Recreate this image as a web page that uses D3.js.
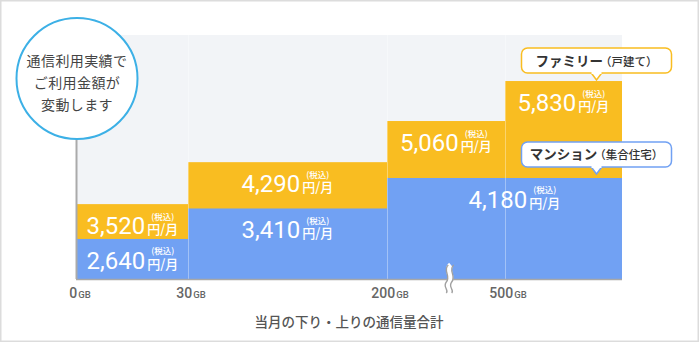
<!DOCTYPE html>
<html lang="ja">
<head>
<meta charset="UTF-8">
<title>通信利用実績でご利用金額が変動します</title>
<style>
    html, body { margin: 0; padding: 0; background: #fff; }
    svg { display: block; }
    .jp { font-family: "Noto Sans CJK JP", "Noto Sans", sans-serif; }
    .num { font-family: Roboto, "Noto Sans", sans-serif; }
</style>
</head>
<body>
<script src="https://cdnjs.cloudflare.com/ajax/libs/d3/7.8.5/d3.min.js"></script>
<script>
    // usage tiers (GB); the last bound is just the open end of the chart
    const tierBounds = [0, 30, 200, 500, 800];
    const tickValues = [0, 30, 200, 500];

    // monthly price per tier (yen, tax incl.)
    const familyPrices = [3520, 4290, 5060, 5830];
    const mansionPrices = [2640, 3410, 4180];
    // mansion price stays the same from 200GB upwards
    const mansionTiers = [[0, 30], [30, 200], [200, 800]];

    const width = 700, height = 344;
    const plotTop = 35, baseY = 279;

    const orange = "#f9bd21", blue = "#71a1f3";

    const svg = d3.select("body").append("svg")
        .attr("width", width)
        .attr("height", height);

    // frame
    svg.append("rect")
        .attr("x", 0.75).attr("y", 0.75)
        .attr("width", 697.5).attr("height", 340.5)
        .attr("fill", "#fff")
        .attr("stroke", "#dcdcdc")
        .attr("stroke-width", 1.5);

    // x is not to scale: each tier gets its own stretch of the axis
    const x = d3.scaleLinear()
        .domain(tierBounds)
        .range([77, 188, 387, 505, 622]);

    // y is stepped as well, price steps are exaggerated near the top
    const y = d3.scaleLinear()
        .domain([2000, 4200, 4300, 6000])
        .range([264.3, 177.2, 160.5, 72.2]);

    // plot background
    svg.append("rect")
        .attr("x", x(0)).attr("y", plotTop)
        .attr("width", x(800) - x(0)).attr("height", baseY - plotTop)
        .attr("fill", "#f2f4f7");

    const family = familyPrices.map((v, i) => ({ v, x0: tierBounds[i], x1: tierBounds[i + 1] }));
    const mansion = mansionPrices.map((v, i) => ({ v, x0: mansionTiers[i][0], x1: mansionTiers[i][1] }));

    svg.append("g").selectAll("rect")
        .data(family)
        .join("rect")
        .attr("x", d => x(d.x0))
        .attr("width", d => x(d.x1) - x(d.x0))
        .attr("y", d => y(d.v))
        .attr("height", d => baseY - y(d.v))
        .attr("fill", orange);

    svg.append("g").selectAll("rect")
        .data(mansion)
        .join("rect")
        .attr("x", d => x(d.x0))
        .attr("width", d => x(d.x1) - x(d.x0))
        .attr("y", d => y(d.v))
        .attr("height", d => baseY - y(d.v))
        .attr("fill", blue);

    // faint tier dividers
    svg.append("g").selectAll("line")
        .data(tickValues.slice(1))
        .join("line")
        .attr("x1", d => x(d) + 0.5).attr("x2", d => x(d) + 0.5)
        .attr("y1", plotTop).attr("y2", baseY)
        .attr("stroke", "#fff")
        .attr("stroke-opacity", 0.35)
        .attr("stroke-width", 1);

    // baseline and left axis line
    svg.append("line")
        .attr("x1", x(0) - 1).attr("x2", x(800))
        .attr("y1", baseY + 0.5).attr("y2", baseY + 0.5)
        .attr("stroke", "#a8a8a8").attr("stroke-width", 1.5);

    const circle = { cx: 77, cy: 78.5, r: 60.5 };
    svg.append("line")
        .attr("x1", x(0) - 0.5).attr("x2", x(0) - 0.5)
        .attr("y1", circle.cy + circle.r).attr("y2", baseY)
        .attr("stroke", "#aaa").attr("stroke-width", 2);

    // break mark between 200GB and 500GB
    const brk = svg.append("g").attr("transform", `translate(449,${baseY})`);
    const wave = "M2,-14 C-4,-9 5,-3 0,3 C-4,8 3,11 0,14";
    brk.append("path").attr("d", wave)
        .attr("fill", "none").attr("stroke", "#fff").attr("stroke-width", 6);
    [-2.7, 2.7].forEach(dx => {
        brk.append("path").attr("d", wave)
            .attr("transform", `translate(${dx},0)`)
            .attr("fill", "none").attr("stroke", "#a0a0a0").attr("stroke-width", 1.4);
    });

    // price labels: big number + 円/月 with (税込) above
    function priceLabel(cx, top, value) {
        const g = svg.append("g");
        const base = top + 30;
        const num = g.append("text")
            .attr("class", "num")
            .attr("x", 0).attr("y", base)
            .attr("fill", "#fff")
            .attr("font-size", 24)
            .attr("font-weight", 400)
            .text(d3.format(",")(value));
        const nw = num.node().getComputedTextLength();
        const unit = g.append("text")
            .attr("class", "jp")
            .attr("x", nw + 2).attr("y", base)
            .attr("fill", "#fff")
            .attr("font-size", 13)
            .attr("font-weight", 500)
            .text("円/月");
        const uw = unit.node().getComputedTextLength();
        g.append("text")
            .attr("class", "jp")
            .attr("x", nw + 2 + uw / 2).attr("y", base - 14.5)
            .attr("text-anchor", "middle")
            .attr("fill", "#fff")
            .attr("font-size", 8.5)
            .attr("font-weight", 500)
            .text("(税込)");
        g.attr("transform", `translate(${cx - (nw + 2 + uw) / 2},0)`);
    }

    family.forEach(d => priceLabel((x(d.x0) + x(d.x1)) / 2, y(d.v), d.v));
    mansion.forEach((d, i) => {
        // the long last step has its label pulled a little right
        const cx = (x(d.x0) + x(d.x1)) / 2 + (i === mansion.length - 1 ? 10 : 0);
        priceLabel(cx, y(d.v), d.v);
    });

    // x tick labels
    const ticks = svg.append("g").selectAll("text")
        .data(tickValues)
        .join("text")
        .attr("class", "num")
        .attr("x", d => x(d) + 3)
        .attr("y", 298)
        .attr("text-anchor", "middle")
        .attr("fill", "#666")
        .attr("font-size", 14)
        .attr("font-weight", 500);
    ticks.append("tspan").text(d => d);
    ticks.append("tspan").attr("font-size", 9.5).attr("dx", 1).text("GB");

    svg.append("text")
        .attr("class", "jp")
        .attr("x", 349).attr("y", 327)
        .attr("text-anchor", "middle")
        .attr("fill", "#555")
        .attr("font-size", 13.5)
        .attr("font-weight", 500)
        .text("当月の下り・上りの通信量合計");

    // callout circle
    svg.append("circle")
        .attr("cx", circle.cx).attr("cy", circle.cy).attr("r", circle.r)
        .attr("fill", "#fff")
        .attr("stroke", "#3cb0e6")
        .attr("stroke-width", 2);
    svg.append("g").selectAll("text")
        .data(["通信利用実績で", "ご利用金額が", "変動します"])
        .join("text")
        .attr("class", "jp")
        .attr("x", circle.cx)
        .attr("y", (d, i) => 66 + i * 22)
        .attr("text-anchor", "middle")
        .attr("fill", "#444")
        .attr("font-size", 14)
        .attr("letter-spacing", 0.4)
        .text(d => d);

    // series name bubbles pointing at the last step
    function bubble(cx, tipY, color, main, sub) {
        const w = 150, h = 25, bottom = tipY - 7;
        const g = svg.append("g");
        g.append("path")
            .attr("d", `M${cx - 6},${bottom - 1} L${cx},${tipY} L${cx + 6},${bottom - 1}`)
            .attr("fill", "#fff").attr("stroke", color).attr("stroke-width", 1.5);
        g.append("rect")
            .attr("x", cx - w / 2).attr("y", bottom - h)
            .attr("width", w).attr("height", h)
            .attr("rx", 6)
            .attr("fill", "#fff").attr("stroke", color).attr("stroke-width", 1.5);
        // hide the rect edge where the pointer joins
        g.append("rect")
            .attr("x", cx - 5).attr("y", bottom - 2)
            .attr("width", 10).attr("height", 3)
            .attr("fill", "#fff");
        const t = g.append("text")
            .attr("class", "jp")
            .attr("x", cx).attr("y", bottom - h / 2 + 5)
            .attr("text-anchor", "middle")
            .attr("fill", "#333");
        t.append("tspan").attr("font-size", 13.5).attr("font-weight", 700).text(main);
        t.append("tspan").attr("font-size", 11.5).attr("font-weight", 500).attr("dx", -3).text(sub);
    }

    bubble((x(500) + x(800)) / 2 + 33, y(familyPrices[3]) - 1, orange, "ファミリー", "（戸建て）");
    bubble((x(500) + x(800)) / 2 + 33, y(mansionPrices[2]) - 4, blue, "マンション", "（集合住宅）");
</script>
</body>
</html>
